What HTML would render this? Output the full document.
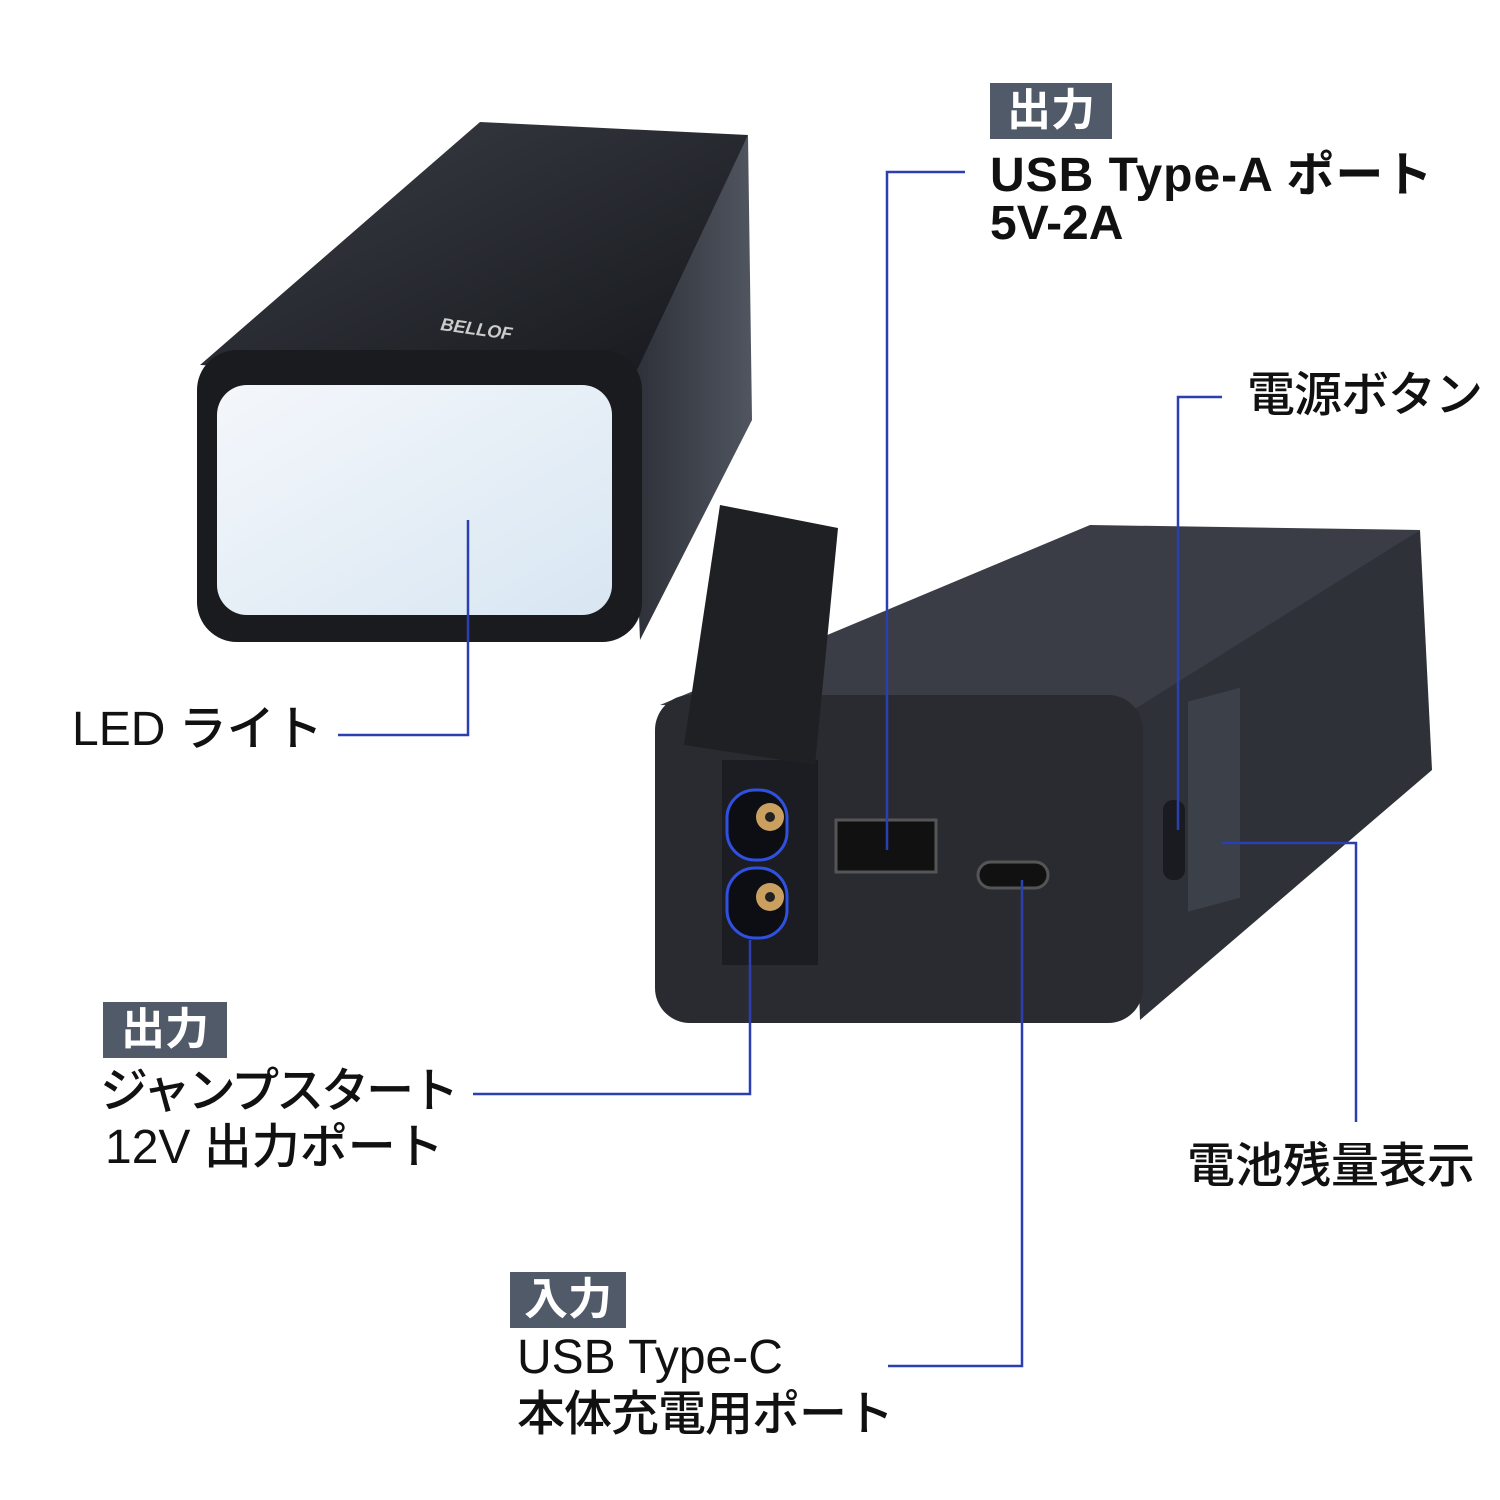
<!DOCTYPE html>
<html><head><meta charset="utf-8"><style>
html,body{margin:0;padding:0;background:#fff;}
#c{position:relative;width:1500px;height:1500px;overflow:hidden;font-family:"Liberation Sans","Noto Sans CJK JP",sans-serif;color:#111;}
.t{position:absolute;font-size:48px;line-height:52px;font-weight:500;white-space:nowrap;}
.b{position:absolute;background:#505a68;color:#fff;font-size:44px;line-height:56px;font-weight:700;text-align:center;}
</style></head><body><div id="c">
<svg width="1500" height="1500" style="position:absolute;left:0;top:0">
<defs>
<linearGradient id="g1" x1="0" y1="0" x2="1" y2="1"><stop offset="0" stop-color="#3a3e46"/><stop offset="1" stop-color="#15171b"/></linearGradient>
<linearGradient id="g2" x1="0" y1="0" x2="1" y2="0"><stop offset="0" stop-color="#2c2f36"/><stop offset="1" stop-color="#505560"/></linearGradient>
<linearGradient id="led" x1="0" y1="0" x2="1" y2="1"><stop offset="0" stop-color="#f4f7fb"/><stop offset="1" stop-color="#d8e6f2"/></linearGradient>
</defs>
<polygon points="200,365 480,122 748,135 640,385" fill="url(#g1)"/>
<polygon points="630,385 748,135 752,420 640,640" fill="url(#g2)"/>
<rect x="197" y="350" width="445" height="292" rx="40" fill="#1a1b1f"/>
<rect x="217" y="385" width="395" height="230" rx="30" fill="url(#led)"/>
<text x="440" y="330" fill="#ccc" font-size="18" font-weight="700" font-style="italic" transform="rotate(8 440 330)" font-family="Liberation Sans">BELLOF</text>
<polygon points="660,705 1090,525 1420,530 1140,715" fill="#3a3d45"/>
<polygon points="1130,712 1420,530 1432,770 1140,1020" fill="#2e3138"/>
<rect x="655" y="695" width="488" height="328" rx="35" fill="#2a2b31"/>
<rect x="722" y="760" width="96" height="205" fill="#1c1d22"/>
<rect x="727" y="790" width="60" height="70" rx="28" fill="#0d0e14" stroke="#3050e0" stroke-width="3"/>
<rect x="727" y="868" width="60" height="70" rx="28" fill="#0d0e14" stroke="#3050e0" stroke-width="3"/>
<circle cx="770" cy="817" r="14" fill="#c9a060"/><circle cx="770" cy="817" r="5" fill="#222"/>
<circle cx="770" cy="897" r="14" fill="#c9a060"/><circle cx="770" cy="897" r="5" fill="#222"/>
<rect x="836" y="820" width="100" height="52" fill="#111" stroke="#555" stroke-width="3"/>
<rect x="978" y="862" width="70" height="26" rx="13" fill="#111" stroke="#555" stroke-width="3"/>
<rect x="1188" y="700" width="52" height="210" fill="#3c4049" transform="skewY(-15) translate(0,320)"/>
<rect x="1163" y="800" width="22" height="80" rx="10" fill="#1a1b20"/>
<polygon points="720,505 838,528 815,765 684,745" fill="#1f2024"/>
<g stroke="#2a3fb0" stroke-width="2.5" fill="none">
<polyline points="965,172 887,172 887,850"/>
<polyline points="1222,397 1178,397 1178,830"/>
<polyline points="338,735 468,735 468,520"/>
<polyline points="1222,843 1356,843 1356,1122"/>
<polyline points="473,1094 750,1094 750,940"/>
<polyline points="888,1366 1022,1366 1022,880"/>
</g>
</svg>
<div class="b" style="left:990px;top:83px;width:122px;">出力</div>
<div class="t" style="left:990px;top:150px;letter-spacing:1px;font-weight:700;">USB Type-A ポート</div>
<div class="t" style="left:990px;top:198px;font-weight:700;">5V-2A</div>
<div class="t" style="left:1247px;top:370px;letter-spacing:-1px;">電源ボタン</div>
<div class="t" style="left:72px;top:704px;">LED ライト</div>
<div class="b" style="left:103px;top:1002px;width:124px;">出力</div>
<div class="t" style="left:100px;top:1066px;letter-spacing:-3px;">ジャンプスタート</div>
<div class="t" style="left:105px;top:1122px;">12V 出力ポート</div>
<div class="t" style="left:1187px;top:1141px;">電池残量表示</div>
<div class="b" style="left:510px;top:1272px;width:116px;">入力</div>
<div class="t" style="left:517px;top:1332px;">USB Type-C</div>
<div class="t" style="left:517px;top:1389px;letter-spacing:-1px;">本体充電用ポート</div>
</div></body></html>
